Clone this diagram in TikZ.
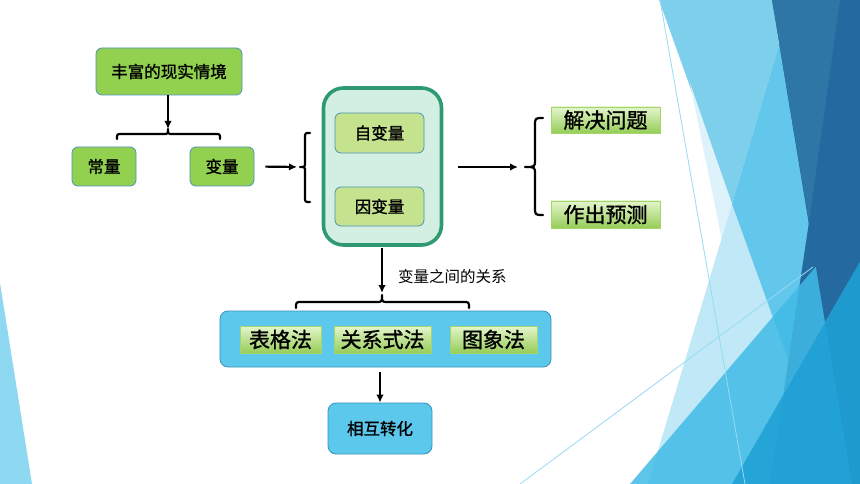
\documentclass[tikz,border=0pt]{standalone}
\usepackage{fontspec}
\newfontfamily\cjk{Noto Sans CJK SC}
\newfontfamily\cjkb{Noto Sans CJK SC}[FakeBold=1.2]
\usetikzlibrary{arrows.meta}
\definecolor{gbox}{HTML}{92D050}
\definecolor{gborder}{HTML}{4E92B6}
\definecolor{mint}{HTML}{D2EFE2}
\definecolor{mintb}{HTML}{2F9A72}
\definecolor{lgreen}{HTML}{C5E28E}
\definecolor{bbox}{HTML}{5CC8EC}
\definecolor{bborder}{HTML}{3C93BC}
\definecolor{gtop}{HTML}{E4F5CC}
\definecolor{gbot}{HTML}{96CD58}
\definecolor{gline}{HTML}{A3D56B}
\definecolor{bgleft}{HTML}{8ED8F2}
\definecolor{bglight}{HTML}{7ECFEC}
\definecolor{bgpale}{HTML}{DDF2FA}
\definecolor{bgpale2}{HTML}{C0E8F7}
\definecolor{bgmid}{HTML}{62C7EB}
\definecolor{bgdark}{HTML}{246AA0}
\definecolor{bgsteel}{HTML}{2D76A6}
\definecolor{bgbright}{HTML}{40BBE6}
\definecolor{bgbright2}{HTML}{1E9FD6}
\definecolor{bgdeep}{HTML}{1B8CBE}
\definecolor{bgline}{HTML}{96DAF3}
\tikzset{
  greenbox/.style={draw=gborder, line width=0.8pt, fill=gbox, rounded corners=6pt, inner sep=0pt, font=\cjkb\fontsize{16.5}{18}\selectfont},
  innerbox/.style={draw=gborder, line width=0.8pt, fill=lgreen, rounded corners=6pt, inner sep=0pt, font=\cjkb\fontsize{16.5}{18}\selectfont},
  bluebox/.style={draw=bborder, line width=0.8pt, fill=bbox, rounded corners=8pt, inner sep=0pt, font=\cjkb\fontsize{16.5}{18}\selectfont},
  gradlabel/.style={draw=gline, line width=0.8pt, top color=gtop, bottom color=gbot, inner sep=0pt, font=\cjkb\fontsize{21}{23}\selectfont},
  arr/.style={line width=2.2pt, -{Latex[length=8pt,width=7.5pt]}},
  bracepath/.style={line width=2.2pt, line cap=round, line join=round},
}
\begin{document}
\begin{tikzpicture}[x=1pt,y=-1pt]
\useasboundingbox (0,0) rectangle (860,484);
\fill[white] (0,0) rectangle (860,484);
% ---- background decoration ----
\fill[bgleft] (0,283) -- (32,484) -- (0,484) -- cycle;
\fill[bglight] (659,0) -- (772,0) -- (779,45) -- (732,204) -- cycle;
\fill[bgpale] (690,83) -- (732,204) -- (722,240) -- cycle;
\fill[bgpale2] (732,204) -- (648,484) -- (833,484) -- cycle;
\fill[bgmid] (779,45) -- (732,204) -- (833,484) -- (860,484) -- (860,0) -- cycle;
\fill[bgdark] (809,222) -- (770,484) -- (860,484) -- (860,262) -- cycle;
\fill[bgbright, opacity=0.85] (630,484) -- (860,215) -- (860,484) -- cycle;
\fill[bgdark] (772,0) -- (860,0) -- (860,262) -- (825,322) -- cycle;
\fill[bgsteel] (772,0) -- (840,0) -- (809,222) -- cycle;
\fill[bgbright2, opacity=0.85] (732,484) -- (860,262) -- (860,484) -- cycle;
\fill[bgdeep, opacity=0.3] (825,322) -- (852,484) -- (860,484) -- (860,262) -- cycle;
\draw[bgline, line width=0.8pt] (660,0) -- (745,484);
\draw[bgline, line width=0.8pt] (520,484) -- (813,267);
% ---- diagram ----
\node[greenbox, minimum width=146pt, minimum height=47pt] (rich) at (169,71.5) {丰富的现实情境};
\node[greenbox, minimum width=64pt, minimum height=39pt] (const) at (104,166.5) {常量};
\node[greenbox, minimum width=64pt, minimum height=39pt] (var) at (222,166.5) {变量};
\node[draw=mintb, line width=3.6pt, fill=mint, rounded corners=20pt, minimum width=118pt, minimum height=157pt, inner sep=0pt] (big) at (382.5,166.5) {};
\node[innerbox, minimum width=89pt, minimum height=40pt] (indep) at (379.5,133) {自变量};
\node[innerbox, minimum width=89pt, minimum height=39pt] (dep) at (379.5,206.5) {因变量};
\node[gradlabel, minimum width=109pt, minimum height=26pt] (solve) at (605.5,120) {解决问题};
\node[gradlabel, minimum width=109pt, minimum height=27pt] (predict) at (605.5,214.5) {作出预测};
\node[bluebox, minimum width=331pt, minimum height=56pt] (methods) at (385.5,339) {};
\node[gradlabel, minimum width=81pt, minimum height=27pt] (table) at (280.5,339.5) {表格法};
\node[gradlabel, minimum width=97pt, minimum height=27pt] (formula) at (382.5,339.5) {关系式法};
\node[gradlabel, minimum width=87pt, minimum height=27pt] (graph) at (493.5,339.5) {图象法};
\node[bluebox, minimum width=104pt, minimum height=51pt] (convert) at (380,428.5) {相互转化};
\node[font=\cjk\fontsize{15.5}{17}\selectfont, anchor=west, inner sep=0pt] (rel) at (398,277) {变量之间的关系};
% brace tips
\coordinate (t1) at (168,129);
\coordinate (t2) at (300,167);
\coordinate (t3) at (525,167);
\coordinate (t4) at (382,295);
% braces
\draw[bracepath] (117,139) .. controls (117,134) .. (122,134) -- (163,134) .. controls (168,134) .. (t1) .. controls (168,134) .. (173,134) -- (215,134) .. controls (220,134) .. (220,139);
\draw[bracepath] (310,133) .. controls (305,133) .. (305,138) -- (305,162) .. controls (305,167) .. (t2) .. controls (305,167) .. (305,172) -- (305,197) .. controls (305,202) .. (310,202);
\draw[bracepath] (543,118) .. controls (535,118) .. (535,126) -- (535,160) .. controls (535,167) .. (t3) .. controls (535,167) .. (535,174) -- (535,207) .. controls (535,215) .. (543,215);
\draw[bracepath] (296,308) .. controls (296,302) .. (302,302) -- (376,302) .. controls (382,302) .. (t4) .. controls (382,302) .. (388,302) -- (463,302) .. controls (469,302) .. (469,308);
% arrows
\draw[arr] (rich.south -| t1) -- (t1);
\draw[arr, shorten <=11pt, shorten >=3pt] (var.east) -- (t2);
\draw[arr, shorten <=15pt, shorten >=7pt] (big.east |- t3) -- (t3);
\draw[arr, shorten <=1pt, shorten >=2pt] (big.south -| t4) -- (t4);
\draw[arr, shorten <=5pt] (methods.south -| convert.north) -- (convert.north);
\end{tikzpicture}
\end{document}
